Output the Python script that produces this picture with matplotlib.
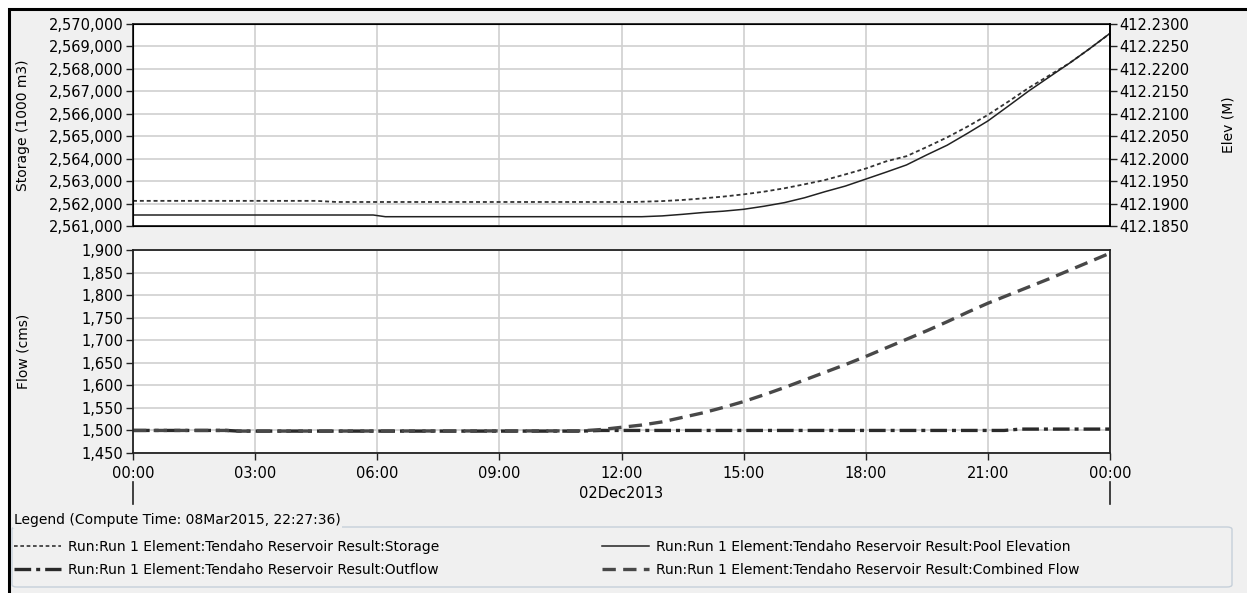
import matplotlib.pyplot as plt
from matplotlib.lines import Line2D
from matplotlib.patches import Rectangle, FancyBboxPatch
from matplotlib.ticker import FuncFormatter

plt.rcParams['font.family'] = ['DejaVu Sans']

# storage (1000 m3), hours from 00:00 02Dec2013
storage_hours = [0, 4.5, 5, 12.3, 13, 13.5, 14, 14.5, 15, 15.5, 16, 16.5, 17, 17.5,
                 18, 18.5, 19, 19.5, 20, 20.5, 21, 21.5, 22, 22.5, 23, 23.5, 24]
storage = [2562120, 2562120, 2562070, 2562070, 2562110, 2562160, 2562230, 2562310,
           2562410, 2562530, 2562680, 2562860, 2563050, 2563300, 2563560, 2563880,
           2564110, 2564520, 2564950, 2565430, 2565950, 2566540, 2567150, 2567700,
           2568250, 2568900, 2569580]

# pool elevation (m)
elev_hours = [0, 5.9, 6.2, 12.5, 13, 13.5, 14, 14.5, 15, 15.5, 16, 16.5, 17, 17.5,
              18, 18.5, 19, 19.5, 20, 20.5, 21, 21.5, 22, 22.5, 23, 23.5, 24]
elev = [412.18745, 412.18745, 412.18707, 412.18707, 412.18725, 412.18760, 412.18800,
        412.18830, 412.18872, 412.18940, 412.19020, 412.19130, 412.19265, 412.19390,
        412.19545, 412.19700, 412.19860, 412.20085, 412.20300, 412.20565, 412.20840,
        412.21170, 412.21505, 412.21815, 412.22124, 412.22450, 412.22792]

# outflow (cms)
outflow_hours = [0, 2.3, 2.6, 11, 11.5, 21.4, 21.8, 24]
outflow = [1500, 1500, 1498.5, 1498.5, 1500, 1500, 1503, 1503]

# combined flow (cms)
combined_hours = [0, 2.3, 2.6, 11, 11.5, 12, 12.5, 13, 13.5, 14, 14.5, 15, 15.5, 16,
                  16.5, 17, 17.5, 18, 18.5, 19, 19.5, 20, 20.5, 21, 21.5, 22, 22.5,
                  23, 23.5, 24]
combined = [1500, 1500, 1498.5, 1499, 1502, 1507, 1512, 1519, 1529, 1539, 1551, 1564,
            1579, 1595, 1612, 1629, 1646, 1664, 1683, 1702, 1721, 1741, 1762, 1782,
            1800, 1818, 1836, 1855, 1874, 1893]

time_ticks = [0, 3, 6, 9, 12, 15, 18, 21, 24]
time_labels = ['00:00', '03:00', '06:00', '09:00', '12:00', '15:00', '18:00', '21:00', '00:00']

run = 'Run:Run 1 Element:Tendaho Reservoir Result:'

W, H = 1247, 593
fig = plt.figure(figsize=(W / 100, H / 100), dpi=100)
fig.patch.set_facecolor('white')

# panel background with black frame on top / left
fig.add_artist(Rectangle((9 / W, -0.05), 1.1, 1 - 9 / H + 0.05, transform=fig.transFigure,
                         facecolor='#f0f0f0', edgecolor='black', lw=2.2, zorder=-10))

def fa(x0, y0, x1, y1):
    return [x0 / W, 1 - y1 / H, (x1 - x0) / W, (y1 - y0) / H]

ax1 = fig.add_axes(fa(133, 24, 1110, 226))
ax3 = fig.add_axes(fa(133, 250, 1110, 453))
ax2 = ax1.twinx()

fs = 10.5
grid_c = '#d0d0d0'

# top panel
ax1.plot(storage_hours, storage, color='#333333', lw=1.3, dashes=(2.2, 1.6))
ax2.plot(elev_hours, elev, color='#222222', lw=1.1)
ax1.set_ylim(2561000, 2570000)
ax1.set_yticks(range(2561000, 2570001, 1000))
ax1.yaxis.set_major_formatter(FuncFormatter(lambda v, p: f'{int(v):,}'))
ax2.set_ylim(412.185, 412.23)
ax2.set_yticks([412.185 + 0.005 * i for i in range(10)])
ax2.yaxis.set_major_formatter(FuncFormatter(lambda v, p: f'{v:.4f}'))
ax1.set_ylabel('Storage (1000 m3)', fontsize=10)
ax2.set_ylabel('Elev (M)', fontsize=10)
ax1.yaxis.set_label_coords(-0.105, 0.5)
ax2.yaxis.set_label_coords(1.114, 0.5)
ax1.tick_params(axis='x', bottom=False, labelbottom=False)

# bottom panel
ax3.plot(outflow_hours, outflow, color='#2a2a2a', lw=2.4, dashes=(5, 1.5, 1.2, 1.5))
ax3.plot(combined_hours, combined, color='#484848', lw=2.4, dashes=(4, 2.2))
ax3.set_ylim(1450, 1900)
ax3.set_yticks(range(1450, 1901, 50))
ax3.yaxis.set_major_formatter(FuncFormatter(lambda v, p: f'{int(v):,}'))
ax3.set_ylabel('Flow (cms)', fontsize=10)
ax3.yaxis.set_label_coords(-0.105, 0.5)

for ax in (ax1, ax3):
    ax.set_xlim(0, 24)
    ax.set_xticks(time_ticks)
    ax.set_facecolor('white')
    ax.grid(True, color=grid_c, lw=1.2)
    ax.set_axisbelow(True)
    for s in ax.spines.values():
        s.set_color('#222222')
        s.set_linewidth(1.3)
ax3.set_xticklabels(time_labels)
for ax in (ax1, ax2, ax3):
    ax.tick_params(labelsize=fs, direction='out', length=5, width=1, color='#222222', pad=2)
ax3.tick_params(axis='x', pad=4)
ax2.spines['right'].set_linewidth(1.3)

# date label with bracket lines
fig.text(621.5 / W, 1 - 494 / H, '02Dec2013', ha='center', va='center', fontsize=fs)
for xp in (133, 1110):
    fig.add_artist(Line2D([xp / W, xp / W], [1 - 482 / H, 1 - 504 / H],
                          transform=fig.transFigure, color='#222222', lw=1.2))

# legend
fig.add_artist(FancyBboxPatch((12 / W, 1 - 587 / H), 1220 / W, 60 / H,
                              boxstyle='round,pad=0,rounding_size=0.004',
                              transform=fig.transFigure, facecolor='#f0f0f0',
                              edgecolor='#c6d0da', lw=1))
fig.text(14 / W, 1 - 520 / H, 'Legend (Compute Time: 08Mar2015, 22:27:36)',
         ha='left', va='center', fontsize=10,
         bbox=dict(facecolor='#f0f0f0', edgecolor='none', pad=1))

h_sto = Line2D([], [], color='#333333', lw=1.2, dashes=(2.2, 1.6))
h_out = Line2D([], [], color='#2a2a2a', lw=2.4, dashes=(5, 1.5, 1.2, 1.5))
h_elev = Line2D([], [], color='#222222', lw=1.1)
h_comb = Line2D([], [], color='#484848', lw=2.4, dashes=(4, 2.2))

leg_kw = dict(loc='upper left', frameon=False, fontsize=10, handlelength=3.4,
              handletextpad=0.5, labelspacing=0.65, borderpad=0, borderaxespad=0)
fig.legend([h_sto, h_out], [run + 'Storage', run + 'Outflow'],
           bbox_to_anchor=(14 / W, 1 - 540 / H), **leg_kw)
fig.legend([h_elev, h_comb], [run + 'Pool Elevation', run + 'Combined Flow'],
           bbox_to_anchor=(602 / W, 1 - 540 / H), **leg_kw)

fig.savefig('out.png', dpi=100, facecolor=fig.get_facecolor())
